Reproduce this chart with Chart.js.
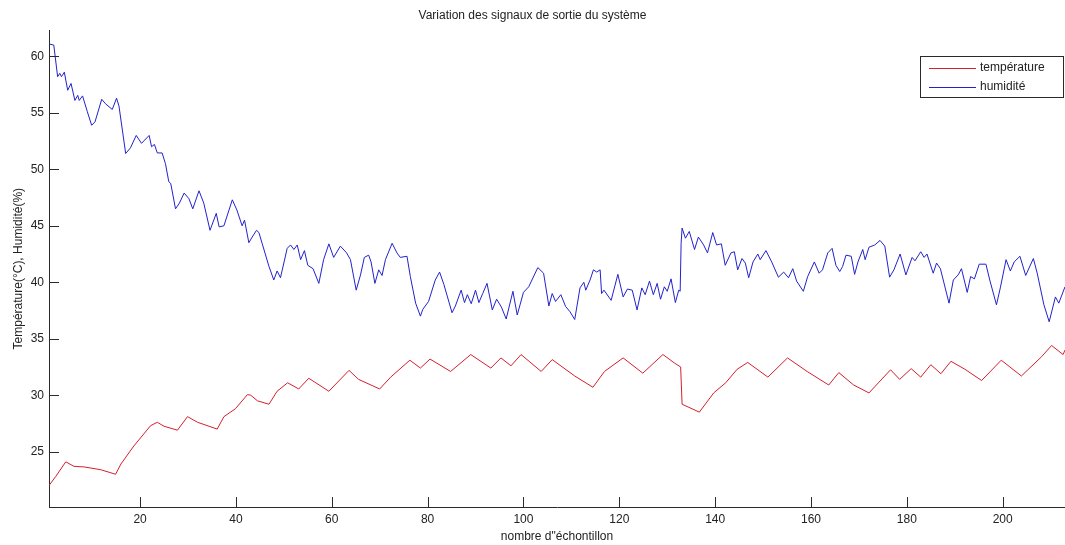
<!DOCTYPE html>
<html>
<head>
<meta charset="utf-8">
<script src="https://cdn.jsdelivr.net/npm/chart.js@4.4.0/dist/chart.umd.min.js"></script>
<style>
  html, body { margin: 0; padding: 0; background: #fff; }
  #wrap { width: 1065px; height: 545px; }
</style>
</head>
<body>
<div id="wrap"><canvas id="chart" width="1065" height="545"></canvas></div>
<script>
// values (sample index -> value)
const tempSamples = [1, 2.4, 4.5, 6.2, 8.3, 11.8, 14.9, 16.0, 18.7, 22.2, 23.6, 25.0, 27.8, 29.9, 32.0, 36.1, 37.5, 39.9, 42.4, 43.1, 44.5, 46.9, 48.6, 50.8, 53.1, 55.2, 59.4, 63.6, 65.6, 70.0, 72.3, 76.3, 78.5, 80.5, 84.8, 89.0, 93.2, 95.3, 97.4, 99.5, 103.7, 106.0, 110.7, 114.5, 116.9, 120.8, 124.9, 129.1, 131.5, 132.8, 133.1, 136.7, 139.7, 142.2, 144.6, 146.8, 151.0, 155.1, 159.2, 163.7, 165.8, 168.9, 172.1, 176.6, 178.5, 180.9, 182.9, 185.0, 187.1, 189.2, 192.1, 195.6, 199.7, 203.9, 208.1, 210.2, 212.6, 213];
const tempValues = [22.0, 22.8, 24.1, 23.7, 23.65, 23.4, 23.0, 23.9, 25.5, 27.3, 27.6, 27.25, 26.9, 28.1, 27.6, 27.0, 28.1, 28.8, 30.05, 30.0, 29.5, 29.2, 30.35, 31.1, 30.55, 31.5, 30.35, 32.2, 31.4, 30.55, 31.6, 33.1, 32.4, 33.2, 32.1, 33.6, 32.4, 33.3, 32.6, 33.6, 32.1, 33.15, 31.7, 30.7, 32.1, 33.3, 31.95, 33.6, 32.85, 32.5, 29.2, 28.5, 30.2, 31.1, 32.3, 32.9, 31.6, 33.3, 32.1, 30.9, 32.0, 30.9, 30.2, 32.25, 31.4, 32.35, 31.6, 32.7, 31.9, 33.0, 32.3, 31.3, 33.1, 31.7, 33.4, 34.4, 33.6, 34.0];

const humSamples = [1, 2.0, 2.8, 3.25, 3.6, 4.2, 4.9, 5.6, 6.4, 7.0, 7.3, 8.0, 9.0, 9.9, 10.6, 12.0, 12.8, 14.2, 15.1, 15.6, 17.0, 18.0, 19.2, 20.3, 21.9, 22.4, 23.0, 23.6, 24.6, 25.3, 26.0, 26.4, 27.4, 28.2, 29.2, 30.2, 31.0, 32.3, 33.3, 34.6, 35.9, 36.5, 37.5, 39.25, 40.2, 41.3, 41.8, 42.7, 43.4, 44.3, 44.8, 45.5, 46.9, 47.9, 48.6, 49.3, 50.7, 51.4, 52.1, 52.8, 53.5, 54.3, 55.0, 56.1, 57.3, 58.3, 59.4, 60.4, 61.8, 63.1, 63.9, 65.1, 66.0, 66.8, 67.7, 68.2, 69.0, 69.8, 70.5, 71.2, 72.6, 73.6, 74.3, 75.7, 76.4, 77.5, 78.5, 79.0, 80.2, 81.6, 82.5, 83.4, 85.1, 85.8, 87.0, 87.7, 88.3, 89.1, 90.0, 90.7, 91.5, 92.4, 93.5, 94.4, 95.4, 96.4, 97.8, 98.7, 100.0, 101.1, 103.0, 104.2, 105.3, 106.0, 106.7, 107.8, 108.8, 109.7, 110.7, 111.8, 112.6, 113.0, 113.9, 114.6, 115.3, 116.0, 116.3, 116.8, 118.3, 119.7, 120.8, 121.7, 122.7, 123.7, 124.7, 125.4, 126.3, 127.1, 127.9, 128.6, 129.4, 130.0, 130.8, 131.7, 132.4, 132.7, 132.9, 133.1, 133.8, 134.6, 135.7, 136.5, 137.6, 138.4, 139.5, 140.3, 141.3, 142.1, 143.3, 144.0, 144.7, 145.6, 146.3, 147.0, 147.9, 148.9, 149.4, 150.6, 151.8, 153.2, 154.3, 155.3, 156.2, 157.0, 158.4, 159.3, 160.7, 161.7, 162.4, 163.5, 164.4, 165.2, 166.0, 166.6, 167.3, 168.4, 169.1, 169.8, 170.8, 171.3, 172.1, 173.3, 174.4, 175.4, 176.4, 177.3, 178.6, 179.8, 181.1, 181.7, 182.9, 183.6, 184.2, 185.5, 186.2, 187.0, 188.8, 189.7, 190.7, 191.4, 192.6, 193.3, 194.1, 195.1, 196.5, 197.3, 198.7, 199.5, 200.7, 201.6, 202.4, 203.6, 204.8, 206.4, 207.2, 208.6, 209.7, 211.0, 211.7, 213.0];
const humValues = [61.1, 61.0, 58.2, 58.5, 58.2, 58.6, 57.0, 57.6, 56.1, 56.55, 56.1, 56.5, 55.1, 53.9, 54.2, 56.2, 55.8, 55.3, 56.3, 55.6, 51.4, 51.9, 53.0, 52.3, 53.0, 52.0, 52.2, 51.45, 51.45, 50.5, 48.9, 48.75, 46.5, 47.0, 47.9, 47.4, 46.5, 48.1, 47.0, 44.6, 46.1, 44.9, 45.0, 47.3, 46.4, 45.0, 45.5, 43.5, 44.0, 44.6, 44.4, 43.4, 41.4, 40.2, 41.0, 40.4, 43.0, 43.3, 42.9, 43.3, 42.0, 42.8, 41.5, 41.2, 39.9, 42.0, 43.4, 42.2, 43.2, 42.6, 42.0, 39.3, 40.65, 42.2, 42.4, 41.8, 39.9, 41.1, 40.6, 42.0, 43.45, 42.6, 42.2, 42.3, 40.5, 38.15, 37.0, 37.6, 38.3, 40.2, 40.9, 39.8, 37.3, 37.9, 39.3, 38.2, 38.9, 38.1, 39.3, 38.2, 39.0, 39.9, 37.55, 38.5, 37.8, 36.75, 39.2, 37.1, 39.1, 39.6, 41.3, 40.8, 37.9, 39.0, 38.3, 38.9, 37.85, 37.4, 36.7, 39.5, 40.0, 39.3, 40.2, 41.1, 40.9, 41.1, 39.0, 39.3, 38.4, 40.7, 38.7, 39.4, 39.3, 37.55, 39.5, 38.9, 40.1, 38.9, 39.9, 38.5, 39.6, 39.2, 40.3, 38.2, 39.3, 39.2, 43.45, 44.8, 43.9, 44.5, 42.9, 44.0, 43.3, 42.6, 44.4, 43.3, 43.4, 41.5, 42.6, 42.7, 41.1, 42.1, 41.7, 40.4, 41.8, 42.5, 42.0, 42.8, 41.8, 40.45, 40.9, 40.4, 41.2, 40.1, 39.2, 40.5, 41.8, 40.8, 41.1, 42.6, 43.0, 41.5, 40.95, 41.4, 42.4, 42.3, 40.7, 41.8, 42.9, 42.0, 43.1, 43.3, 43.7, 43.2, 40.45, 41.1, 42.5, 40.65, 42.2, 41.9, 42.7, 42.2, 42.5, 40.8, 41.7, 41.2, 38.15, 40.2, 40.65, 41.2, 39.1, 40.5, 40.3, 41.6, 41.6, 40.2, 38.0, 39.5, 42.0, 41.0, 41.8, 42.3, 40.6, 42.1, 40.8, 38.0, 36.5, 38.7, 38.15, 39.6];

const xTickValues = [20, 40, 60, 80, 100, 120, 140, 160, 180, 200];
const yTickValues = [25, 30, 35, 40, 45, 50, 55, 60];

const FONT = "'Liberation Sans', Arial, sans-serif";
const TEXT = '#222222';
const AXIS = '#2a2a2a';

function toPoints(xs, ys) {
    return xs.map((x, i) => ({ x: x, y: ys[i] }));
}

// MATLAB-like ticks pointing into the plot
const inwardTicks = {
    id: 'inwardTicks',
    afterDatasetsDraw(chart) {
        const ctx = chart.ctx;
        const xs = chart.scales.x, ys = chart.scales.y;
        const area = chart.chartArea;
        ctx.save();
        ctx.strokeStyle = AXIS;
        ctx.lineWidth = 1;
        ctx.beginPath();
        xs.ticks.forEach(t => {
            const px = Math.round(xs.getPixelForValue(t.value)) + 0.5;
            ctx.moveTo(px, area.bottom);
            ctx.lineTo(px, area.bottom - 10);
        });
        ys.ticks.forEach(t => {
            const py = Math.round(ys.getPixelForValue(t.value)) + 0.5;
            ctx.moveTo(area.left, py);
            ctx.lineTo(area.left + 10, py);
        });
        ctx.stroke();
        ctx.restore();
    }
};

// boxed legend in the upper right corner of the axes
const boxLegend = {
    id: 'boxLegend',
    afterDraw(chart) {
        const ctx = chart.ctx;
        const box = { x: 920.5, y: 56.5, w: 143, h: 41 };
        ctx.save();
        ctx.fillStyle = '#ffffff';
        ctx.fillRect(box.x, box.y, box.w, box.h);
        ctx.strokeStyle = AXIS;
        ctx.lineWidth = 1;
        ctx.strokeRect(box.x, box.y, box.w, box.h);
        ctx.font = '12px ' + FONT;
        ctx.textBaseline = 'middle';
        chart.data.datasets.forEach((ds, i) => {
            const y = 68 + i * 18.5;
            ctx.strokeStyle = ds.borderColor;
            ctx.beginPath();
            ctx.moveTo(929, Math.round(y) + 0.5);
            ctx.lineTo(976, Math.round(y) + 0.5);
            ctx.stroke();
            ctx.fillStyle = TEXT;
            ctx.fillText(ds.label, 980, y);
        });
        ctx.restore();
    }
};

const ctx = document.getElementById('chart').getContext('2d');
new Chart(ctx, {
    type: 'line',
    data: {
        datasets: [
            {
                label: 'température',
                data: toPoints(tempSamples, tempValues),
                borderColor: '#d4202c',
                borderWidth: 1,
                pointRadius: 0,
                tension: 0,
                fill: false
            },
            {
                label: 'humidité',
                data: toPoints(humSamples, humValues),
                borderColor: '#2222cc',
                borderWidth: 1,
                pointRadius: 0,
                tension: 0,
                fill: false
            }
        ]
    },
    options: {
        responsive: false,
        devicePixelRatio: 1,
        animation: false,
        layout: { padding: { left: 0, right: 0, top: 0, bottom: 0 } },
        plugins: {
            legend: { display: false },
            tooltip: { enabled: false },
            title: {
                display: true,
                text: 'Variation des signaux de sortie du système',
                color: TEXT,
                font: { family: FONT, size: 12, weight: 'normal' },
                padding: { top: 8, bottom: 8 }
            }
        },
        scales: {
            x: {
                type: 'linear',
                min: 1,
                max: 213,
                grid: { display: false, drawTicks: false, tickLength: 0 },
                border: { display: true, color: AXIS, width: 1 },
                afterBuildTicks: (scale) => { scale.ticks = xTickValues.map(v => ({ value: v })); },
                afterFit: (scale) => { scale.height = 38; },
                ticks: {
                    color: TEXT,
                    padding: 5,
                    maxRotation: 0,
                    font: { family: FONT, size: 12 }
                },
                title: {
                    display: true,
                    text: 'nombre d"échontillon',
                    color: TEXT,
                    font: { family: FONT, size: 12 },
                    padding: { top: 0, bottom: 1 }
                }
            },
            y: {
                type: 'linear',
                min: 20.1,
                max: 62.3,
                grid: { display: false, drawTicks: false, tickLength: 0 },
                border: { display: true, color: AXIS, width: 1 },
                afterBuildTicks: (scale) => { scale.ticks = yTickValues.map(v => ({ value: v })); },
                afterFit: (scale) => { scale.width = 49; },
                ticks: {
                    color: TEXT,
                    padding: 5,
                    font: { family: FONT, size: 12 }
                },
                title: {
                    display: true,
                    text: 'Température(°C), Humidité(%)',
                    color: TEXT,
                    font: { family: FONT, size: 12 },
                    padding: { top: 11, bottom: 0 }
                }
            }
        }
    },
    plugins: [inwardTicks, boxLegend]
});
</script>
</body>
</html>
